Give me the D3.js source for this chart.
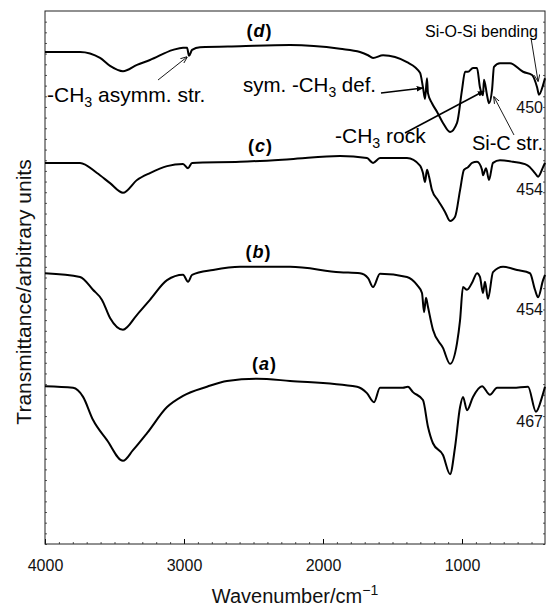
<!DOCTYPE html>
<html>
<head>
<meta charset="utf-8">
<script src="https://cdn.jsdelivr.net/npm/d3@7"></script>
<style>
  body { margin: 0; background: #fff; }
  svg { display: block; font-family: "Liberation Sans", Arial, Helvetica, sans-serif; }
</style>
</head>
<body>
<svg id="chart"></svg>
<script>
// FTIR spectra, [wavenumber (cm-1), transmittance (arb. units)]
var specD = [
  [4000, 92.3], [3748, 92.3], [3604, 91.2], [3532, 89.7], [3439, 88.7], [3338, 89.9],
  [3245, 90.8], [3079, 92.7], [3007, 93.1], [2978, 93.1], [2964, 91.6], [2942, 92.7],
  [2885, 93.2], [2597, 93.4], [2237, 93.6], [1878, 92.9], [1734, 92.3], [1676, 91.7],
  [1640, 91.2], [1568, 91.7], [1396, 90.4], [1302, 88.4], [1281, 85.7], [1266, 83.5],
  [1252, 87.4], [1245, 84.6], [1216, 82.7], [1180, 81.1], [1137, 79.0], [1086, 77.3],
  [1036, 79.0], [1000, 85.2], [978, 88.6], [957, 88.6], [921, 89.3], [892, 89.3],
  [871, 85.7], [849, 84.2], [842, 87.1], [820, 84.2], [806, 82.7], [784, 85.2],
  [770, 89.5], [727, 90.2], [655, 90.2], [561, 88.6], [496, 88.0], [460, 85.7],
  [446, 84.3], [417, 86.1], [403, 87.4]
];
var specC = [
  [4000, 71.5], [3748, 71.5], [3626, 69.6], [3532, 67.7], [3439, 65.9], [3338, 68.3],
  [3245, 69.6], [3122, 70.9], [3007, 71.3], [2971, 70.5], [2942, 71.5], [2597, 71.7],
  [2237, 72.2], [1878, 72.8], [1684, 72.4], [1640, 71.5], [1590, 72.4], [1396, 72.4],
  [1302, 71.0], [1281, 69.6], [1266, 67.9], [1252, 70.2], [1237, 68.9], [1216, 66.4],
  [1173, 64.5], [1122, 62.3], [1086, 60.6], [1050, 61.4], [1014, 66.4], [986, 70.2],
  [957, 70.7], [928, 71.5], [892, 71.7], [856, 70.2], [849, 69.2], [827, 70.5],
  [806, 68.3], [777, 71.5], [727, 72.0], [633, 71.7], [532, 71.1], [475, 69.6],
  [453, 68.9], [417, 70.7], [403, 71.5]
];
var specB = [
  [4000, 50.8], [3748, 50.1], [3655, 47.7], [3590, 45.8], [3532, 42.4], [3439, 40.2],
  [3338, 43.0], [3245, 45.8], [3122, 49.5], [3007, 50.5], [2971, 49.2], [2942, 50.5],
  [2791, 51.4], [2597, 52.0], [2237, 52.0], [1878, 51.0], [1734, 50.8], [1676, 49.9],
  [1640, 48.2], [1590, 50.7], [1396, 50.1], [1324, 48.6], [1288, 47.1], [1273, 43.5],
  [1259, 46.2], [1245, 44.5], [1209, 40.2], [1137, 36.8], [1086, 33.8], [1036, 37.7],
  [1014, 42.0], [993, 48.2], [964, 47.7], [928, 49.0], [892, 50.8], [871, 50.1],
  [849, 47.1], [835, 49.2], [813, 46.0], [777, 51.0], [705, 52.0], [604, 51.4],
  [511, 50.8], [475, 47.7], [453, 46.3], [417, 49.5], [403, 50.5]
];
var specA = [
  [4000, 29.6], [3798, 29.3], [3726, 27.6], [3655, 23.3], [3554, 19.5], [3439, 15.6],
  [3367, 17.6], [3266, 20.8], [3122, 25.7], [3007, 27.8], [2835, 29.5], [2691, 30.6],
  [2475, 31.0], [2237, 30.6], [1755, 29.5], [1684, 28.3], [1633, 26.6], [1590, 29.3],
  [1425, 29.3], [1389, 29.5], [1353, 28.5], [1281, 27.0], [1245, 22.0], [1209, 18.9],
  [1137, 16.7], [1086, 13.1], [1050, 18.2], [1014, 25.7], [993, 27.6], [964, 25.1],
  [921, 27.6], [856, 29.6], [799, 28.0], [748, 29.3], [633, 29.3], [525, 29.5],
  [468, 24.8], [424, 27.6], [403, 29.5]
];

var spectra = [specA, specB, specC, specD];
var curveLabels = ["a", "b", "c", "d"];
var xTicks = [4000, 3000, 2000, 1000];
var xDomain = [4000, 403];
var yDomain = [0, 100];

var W = 547, H = 606;
var margin = { top: 11, right: 2, bottom: 62, left: 45 };
var width = W - margin.left - margin.right;
var height = H - margin.top - margin.bottom;

var svg = d3.select("#chart").attr("width", W).attr("height", H);

// arrowheads
var defs = svg.append("defs");
defs.append("marker").attr("id", "headBig")
    .attr("viewBox", "0 0 10 10").attr("refX", 9).attr("refY", 5)
    .attr("markerWidth", 7).attr("markerHeight", 7).attr("markerUnits", "userSpaceOnUse")
    .attr("orient", "auto")
    .append("path").attr("d", "M0,1 L10,5 L0,9 Z").attr("fill", "#000");
defs.append("marker").attr("id", "headSmall")
    .attr("viewBox", "0 0 10 10").attr("refX", 9).attr("refY", 5)
    .attr("markerWidth", 7).attr("markerHeight", 7).attr("markerUnits", "userSpaceOnUse")
    .attr("orient", "auto")
    .append("path").attr("d", "M0,1 L10,5 L0,9").attr("fill", "none")
    .attr("stroke", "#000").attr("stroke-width", 1.2);

var g = svg.append("g")
    .attr("transform", "translate(" + margin.left + "," + margin.top + ")");

var x = d3.scaleLinear().domain(xDomain).range([0, width]);
var y = d3.scaleLinear().domain(yDomain).range([height, 0]);

// minor ticks (tiny, inward)
var minorX = d3.range(4000, 400, -100);
g.append("g").attr("transform", "translate(0," + height + ")")
    .call(d3.axisTop(x).tickValues(minorX).tickSize(2).tickFormat(""))
    .call(function(s) { s.select(".domain").remove(); });
var minorY = d3.range(0, 100, 2);
g.append("g")
    .call(d3.axisRight(y).tickValues(minorY).tickSize(2).tickFormat(""))
    .call(function(s) { s.select(".domain").remove(); });
g.append("g").attr("transform", "translate(" + width + ",0)")
    .call(d3.axisLeft(y).tickValues(minorY).tickSize(2).tickFormat(""))
    .call(function(s) { s.select(".domain").remove(); });
g.selectAll(".tick line").attr("stroke", "#555");

// major x ticks, inward, labels below
var xAxis = g.append("g").attr("transform", "translate(0," + height + ")")
    .call(d3.axisBottom(x).tickValues(xTicks).tickSize(-5).tickPadding(16).tickFormat(d3.format("d")));
xAxis.select(".domain").remove();
xAxis.selectAll("text").attr("font-size", "16px").attr("fill", "#111")
    .attr("font-family", "'Liberation Sans', Arial, sans-serif");
xAxis.selectAll(".tick line").attr("stroke", "#000");

// frame
g.append("rect").attr("width", width).attr("height", height)
    .attr("fill", "none").attr("stroke", "#222").attr("stroke-width", 1);

// spectra
var line = d3.line()
    .x(function(d) { return x(d[0]); })
    .y(function(d) { return y(d[1]); })
    .curve(d3.curveMonotoneX);

g.append("g").selectAll("path")
    .data(spectra)
    .enter()
    .append("path")
    .attr("d", line)
    .attr("fill", "none")
    .attr("stroke", "#000")
    .attr("stroke-width", 2)
    .attr("stroke-linejoin", "round");

// curve labels (a)-(d)
var labelPos = [[264, 370], [258, 258], [260, 152], [259, 37]];
curveLabels.forEach(function(lab, i) {
    var t = svg.append("text")
        .attr("x", labelPos[i][0]).attr("y", labelPos[i][1])
        .attr("text-anchor", "middle")
        .attr("font-size", "18px").attr("font-weight", "bold").attr("fill", "#000");
    t.append("tspan").text("(");
    t.append("tspan").attr("font-style", "italic").attr("dx", 1).text(lab);
    t.append("tspan").attr("dx", 1).text(")");
});

// band annotations
function ch3Label(x0, y0, before, after, size) {
    var t = svg.append("text").attr("x", x0).attr("y", y0)
        .attr("font-size", size + "px").attr("fill", "#000");
    t.append("tspan").text(before + "-CH");
    t.append("tspan").attr("font-size", (size * 0.68) + "px").attr("dy", 5).text("3");
    t.append("tspan").attr("dy", -5).text(after);
    return t;
}
ch3Label(47, 102, "", " asymm. str.", 21);
ch3Label(243, 92, "sym. ", " def.", 20.5);
ch3Label(335, 143, "", " rock", 21);

svg.append("text").attr("x", 543).attr("y", 150).attr("text-anchor", "end")
    .attr("font-size", "20px").text("Si-C str.");
svg.append("text").attr("x", 425).attr("y", 37)
    .attr("font-size", "16px").text("Si-O-Si bending");

var peakNums = [["450", 113], ["454", 195], ["454", 315], ["467", 427]];
peakNums.forEach(function(p) {
    svg.append("text").attr("x", 543).attr("y", p[1]).attr("text-anchor", "end")
        .attr("font-size", "16px").attr("fill", "#111").text(p[0]);
});

// arrows
var arrows = [
    { from: [158, 80], to: [187, 57], w: 0.9, head: "headSmall" },
    { from: [381, 93], to: [423, 88], w: 1.6, head: "headBig" },
    { from: [405, 133], to: [484, 91], w: 1.6, head: "headBig" },
    { from: [514, 135], to: [494, 97], w: 0.9, head: "headSmall" },
    { from: [531, 38], to: [538, 81], w: 0.9, head: "headSmall" }
];
arrows.forEach(function(a) {
    svg.append("line")
        .attr("x1", a.from[0]).attr("y1", a.from[1])
        .attr("x2", a.to[0]).attr("y2", a.to[1])
        .attr("stroke", "#000").attr("stroke-width", a.w)
        .attr("marker-end", "url(#" + a.head + ")");
});

// axis titles
var xt = svg.append("text")
    .attr("x", margin.left + width / 2).attr("y", 603)
    .attr("text-anchor", "middle").attr("font-size", "20px").attr("fill", "#111");
xt.append("tspan").text("Wavenumber/cm");
xt.append("tspan").attr("font-size", "14px").attr("dy", -8).text("\u22121");

svg.append("text")
    .attr("transform", "translate(31," + 292 + ")rotate(-90)")
    .attr("text-anchor", "middle").attr("font-size", "21px").attr("fill", "#111")
    .text("Transmittance/arbitrary units");
</script>
</body>
</html>
